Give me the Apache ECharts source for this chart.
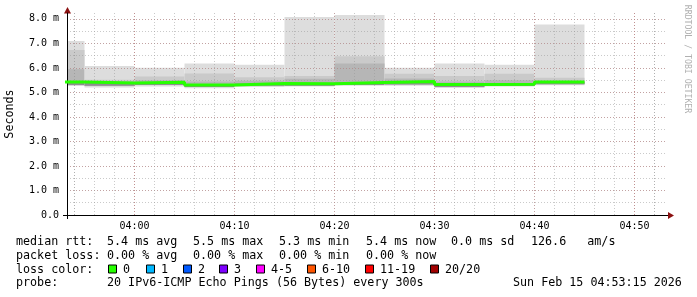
<!DOCTYPE html>
<html><head><meta charset="utf-8">
<script src="https://cdn.jsdelivr.net/npm/echarts@6/dist/echarts.min.js"></script>
<style>html,body{margin:0;padding:0;background:#fff}#c{width:697px;height:297px}</style>
</head><body><div id="c"></div>
<script>
// ---- data (RTT in milliseconds, 5-minute slots) ----
const slotStart = ['03:50','03:55','04:00','04:05','04:10','04:15','04:20','04:25','04:30','04:35','04:40'];
const rttMin    = [5.27, 5.20, 5.24, 5.17, 5.22, 5.24, 5.27, 5.27, 5.18, 5.24, 5.29];
const rttLow    = [5.30, 5.27, 5.30, 5.22, 5.27, 5.27, 5.30, 5.32, 5.22, 5.26, 5.33];
const rttMedian = [5.43, 5.38, 5.42, 5.30, 5.36, 5.35, 5.40, 5.45, 5.32, 5.33, 5.43];
const rttMid    = [5.95, 5.46, 5.50, 5.45, 5.48, 5.56, 6.18, 5.57, 5.45, 5.50, 5.48];
const rttUpper  = [6.73, 5.52, 5.65, 5.77, 5.62, 5.67, 6.48, 5.76, 5.67, 5.76, 5.60];
const rttMax    = [7.10, 6.08, 6.01, 6.18, 6.13, 8.08, 8.16, 6.01, 6.18, 6.13, 7.77];
const xTickLabels = ['04:00', '04:10', '04:20', '04:30', '04:40', '04:50'];
const yTickLabels = ['0.0','1.0 m','2.0 m','3.0 m','4.0 m','5.0 m','6.0 m','7.0 m','8.0 m'];
const rttStatsLabel = 'median rtt:';
const rttStats = ['5.4 ms avg', '5.5 ms max', '5.3 ms min', '5.4 ms now', '0.0 ms sd', '126.6   am/s'];
const lossStatsLabel = 'packet loss:';
const lossStats = ['0.00 % avg', '0.00 % max', '0.00 % min', '0.00 % now'];
const lossNames  = ['0', '1', '2', '3', '4-5', '6-10', '11-19', '20/20'];
const lossColors = ['#26ff00', '#00b8ff', '#0059ff', '#7e00ff', '#ff00ff', '#ff5500', '#ff0000', '#a10000'];
const probeText = '20 IPv6-ICMP Echo Pings (56 Bytes) every 300s';
const dateText = 'Sun Feb 15 04:53:15 2026';

// ---- helpers ----
const ts = s => { const [h, m] = s.split(':').map(Number); return new Date(2026, 1, 15, h, m, 0).getTime(); };
const STEP = 5 * 60 * 1000;
const xMin = new Date(2026, 1, 15, 3, 53, 15).getTime();
const xMax = new Date(2026, 1, 15, 4, 53, 15).getTime();
const majorTimes = xTickLabels.map(ts);
const minorTimes = [];
for (let t = ts('03:54'); t < xMax; t += 120000) minorTimes.push(t);

const smokeData = slotStart.map((s, i) => [ts(s), ts(s) + STEP, rttMin[i], rttLow[i], rttMedian[i], rttMid[i], rttUpper[i], rttMax[i]]);
const medianData = slotStart.map((s, i) => [ts(s), rttMedian[i]]);
medianData.push([ts(slotStart[slotStart.length - 1]) + STEP, rttMedian[rttMedian.length - 1]]);

const GL = 67, GT = 13, GR = 667, GB = 215;
const FONT = 'DejaVu Sans Mono';
const MAJOR = 'rgba(225,110,110,0.55)';
const MINOR = 'rgba(150,150,150,0.5)';

const chart = echarts.init(document.getElementById('c'), null, { renderer: 'canvas' });

const graphics = [];
graphics.push({ type: 'line', shape: { x1: GL - 4, y1: GB + 0.5, x2: GL, y2: GB + 0.5 }, style: { stroke: '#000', lineWidth: 1 } });
graphics.push({ type: 'line', shape: { x1: GR, y1: GB + 0.5, x2: GR + 2, y2: GB + 0.5 }, style: { stroke: '#000', lineWidth: 1 } });
graphics.push({ type: 'line', shape: { x1: GL + 0.5, y1: GB, x2: GL + 0.5, y2: GB + 4 }, style: { stroke: '#000', lineWidth: 1 } });
graphics.push({ type: 'polygon', shape: { points: [[GR + 1, GB - 3], [GR + 1, GB + 4], [GR + 7, GB + 0.5]] }, style: { fill: '#8b1010' } });
graphics.push({ type: 'polygon', shape: { points: [[GL - 3, GT + 0.5], [GL + 4, GT + 0.5], [GL + 0.5, GT - 6]] }, style: { fill: '#8b1010' } });
graphics.push({ type: 'text', x: 687, y: 59, rotation: -Math.PI / 2,
  style: { text: 'RRDTOOL / TOBI OETIKER', align: 'center', verticalAlign: 'middle', fontFamily: FONT, fontSize: 8.2, fill: '#b0b0b0' } });
const rowY = [241.5, 255.5, 269.5, 283];
const valueX = [107, 193, 279, 366, 451, 531];
const txt = (x, y, t) => ({ type: 'text', x, y, style: { text: t, fontFamily: FONT, fontSize: 11.7, fill: '#000', verticalAlign: 'middle' } });
graphics.push(txt(16, rowY[0], rttStatsLabel));
rttStats.forEach((t, i) => graphics.push(txt(valueX[i], rowY[0], t)));
graphics.push(txt(16, rowY[1], lossStatsLabel));
lossStats.forEach((t, i) => graphics.push(txt(valueX[i], rowY[1], t)));
graphics.push(txt(16, rowY[2], 'loss color:'));
const swX = [108, 146, 183, 219, 256, 307, 365, 430];
lossNames.forEach((n, i) => {
  graphics.push({ type: 'rect', shape: { x: swX[i] + 0.5, y: rowY[2] - 4.5, width: 8, height: 8 }, style: { fill: lossColors[i], stroke: '#000', lineWidth: 1 } });
  graphics.push(txt(swX[i] + 15, rowY[2], n));
});
graphics.push(txt(16, rowY[3], 'probe:'));
graphics.push(txt(valueX[0], rowY[3], probeText));
graphics.push(txt(513, rowY[3], dateText));

const smokeBands = [
  [2, 7, '#dddddd'],
  [3, 6, '#cacaca'],
  [3, 5, '#b6b6b6'],
  [3, 4, '#8e8e8e']
];

chart.setOption({
  animation: false,
  backgroundColor: '#fff',
  textStyle: { fontFamily: FONT },
  grid: { left: GL, top: GT, width: GR - GL, height: GB - GT, containLabel: false, outerBoundsMode: 'none' },
  xAxis: [
    { type: 'time', min: xMin, max: xMax,
      axisLine: { show: true, lineStyle: { color: '#000', width: 1 } },
      axisTick: { show: false, customValues: majorTimes },
      axisLabel: { customValues: majorTimes, formatter: '{HH}:{mm}', fontFamily: FONT, fontSize: 10, color: '#000', margin: 6, hideOverlap: false },
      splitLine: { show: true, lineStyle: { color: MAJOR, type: [1, 2], width: 1 } } },
    { type: 'time', min: xMin, max: xMax, position: 'bottom',
      axisLine: { show: false }, axisTick: { show: false, customValues: minorTimes }, axisLabel: { show: false, customValues: minorTimes },
      splitLine: { show: true, lineStyle: { color: MINOR, type: [1, 2], width: 1 } } }
  ],
  yAxis: [
    { type: 'value', min: 0, max: 8.24, interval: 1,
      name: 'Seconds', nameLocation: 'middle', nameRotate: 90, nameGap: 51,
      nameTextStyle: { fontFamily: FONT, fontSize: 11.7, color: '#000' },
      axisLine: { show: true, lineStyle: { color: '#000', width: 1 } },
      axisTick: { show: false },
      axisLabel: { fontFamily: FONT, fontSize: 10, color: '#000', margin: 8, showMaxLabel: false,
        formatter: v => { const i = Math.round(v); return Math.abs(v - i) < 1e-6 ? yTickLabels[i] : ''; } },
      splitLine: { show: true, showMinLine: false, showMaxLine: false, lineStyle: { color: MAJOR, type: [1, 2], width: 1 } } },
    { type: 'value', min: 0, max: 8.24, interval: 0.5, position: 'left',
      axisLine: { show: false }, axisTick: { show: false }, axisLabel: { show: false },
      splitLine: { show: true, showMinLine: false, showMaxLine: false, lineStyle: { color: MINOR, type: [1, 2], width: 1 } } }
  ],
  series: [
    { type: 'custom', name: 'smoke', xAxisIndex: 0, yAxisIndex: 0, z: -1,
      encode: { x: [0, 1], y: [2, 3, 4, 5, 6, 7] },
      data: smokeData,
      renderItem: (params, api) => {
        const cs = params.coordSys;
        const t0 = api.value(0), t1 = api.value(1);
        const children = smokeBands.map(([lo, hi, col]) => {
          const pTop = api.coord([t0, api.value(hi)]);
          const pBot = api.coord([t1, api.value(lo)]);
          const r = echarts.graphic.clipRectByRect(
            { x: pTop[0], y: pTop[1], width: pBot[0] - pTop[0], height: pBot[1] - pTop[1] },
            { x: cs.x, y: cs.y, width: cs.width, height: cs.height });
          return r ? { type: 'rect', shape: r, style: { fill: col } } : null;
        }).filter(Boolean);
        return { type: 'group', children };
      } },
    { type: 'line', name: 'median', xAxisIndex: 0, yAxisIndex: 0, step: 'end', symbol: 'none', z: 3,
      data: medianData, lineStyle: { color: '#26ff00', width: 3 }, clip: true }
  ],
  graphic: graphics
});
</script></body></html>
